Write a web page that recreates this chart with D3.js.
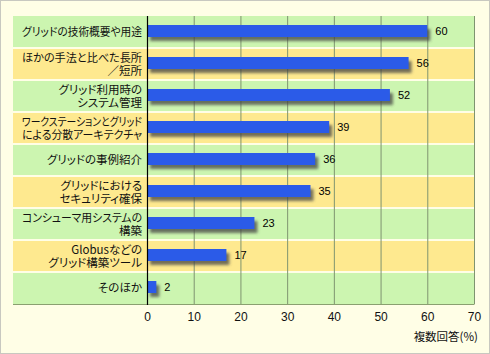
<!DOCTYPE html>
<html><head><meta charset="utf-8">
<script src="https://cdn.jsdelivr.net/npm/d3@7"></script>
<style>
html,body{margin:0;padding:0;background:#fffee6;}
svg{display:block;}
.jp{font-family:"Noto Sans CJK JP",sans-serif;font-feature-settings:"palt" 1;}
</style></head>
<body>
<svg id="c" width="490" height="354"></svg>
<script>
const categories = [
  ["グリッドの技術概要や用途"],
  ["ほかの手法と比べた長所", "／短所"],
  ["グリッド利用時の", "システム管理"],
  ["ワークステーションとグリッド", "による分散アーキテクチャ"],
  ["グリッドの事例紹介"],
  ["グリッドにおける", "セキュリティ確保"],
  ["コンシューマ用システムの", "構築"],
  ["Globusなどの", "グリッド構築ツール"],
  ["そのほか"]
];
const values = [60, 56, 52, 39, 36, 35, 23, 17, 2];
const ticks = [0, 10, 20, 30, 40, 50, 60, 70];
const axisTitle = "複数回答(%)";

(function(){
const svg = d3.select("#c");
const W = 490, H = 354;
svg.append("rect").attr("x",0.5).attr("y",0.5).attr("width",W-1).attr("height",H-1)
  .attr("fill","#fffee6").attr("stroke","#c8c8c0");

const pLeft = 13, x0 = 147, x1 = 474, pTop = 16, pBottom = 304;
const x = d3.scaleLinear().domain([0,70]).range([x0,x1]);
const y = d3.scaleBand().domain(d3.range(categories.length)).range([pTop,pBottom]);

const defs = svg.append("defs");
const f = defs.append("filter").attr("id","sh").attr("x","-20%").attr("y","-50%").attr("width","150%").attr("height","250%");
f.append("feGaussianBlur").attr("stdDeviation",1.8);

svg.append("g").selectAll("rect").data(categories).join("rect")
  .attr("x", pLeft).attr("width", x1-pLeft)
  .attr("y", (d,i)=> y(i) + (i>0?1:0))
  .attr("height", (d,i)=> y.bandwidth() - (i>0?1:0) - (i<categories.length-1?1:0))
  .attr("fill", (d,i)=> i%2===0 ? "#ccf5b0" : "#fee98f");

svg.append("g").selectAll("line").data(ticks.filter(t=>t>0)).join("line")
  .attr("x1", d=>x(d)+0.5).attr("x2", d=>x(d)+0.5)
  .attr("y1", pTop).attr("y2", pBottom)
  .attr("stroke","#7f9470").attr("stroke-width",1);

svg.append("line").attr("x1",pLeft).attr("x2",x1+0.5).attr("y1",pBottom+0.5).attr("y2",pBottom+0.5)
  .attr("stroke","#8aa070").attr("stroke-width",1);

const bh = 12;
const boff = (y.bandwidth()-bh)/2 - 1;
svg.append("g").selectAll("rect").data(values).join("rect")
  .attr("x", x(0)+3).attr("y",(d,i)=>y(i)+boff+4)
  .attr("width", d=>x(d)-x(0)).attr("height",bh)
  .attr("fill","#444").attr("opacity",0.75).attr("filter","url(#sh)");
svg.append("g").selectAll("rect").data(values).join("rect")
  .attr("x", x(0)).attr("y",(d,i)=>y(i)+boff)
  .attr("width", d=>x(d)-x(0)).attr("height",bh)
  .attr("fill","#2b5be8");

svg.append("line").attr("x1",x0+0.5).attr("x2",x0+0.5).attr("y1",pTop).attr("y2",pBottom+1)
  .attr("stroke","#000").attr("stroke-width",1.2);

svg.append("g").selectAll("text").data(values).join("text")
  .attr("x", d=>x(d)+8).attr("y",(d,i)=>y(i)+y.bandwidth()/2-1)
  .attr("dy","0.35em")
  .attr("font-family","Liberation Sans, Arial, sans-serif").attr("font-size",11)
  .attr("fill","#000").text(d=>d);

const lab = svg.append("g").attr("class","jp").attr("font-size",11.5).attr("fill","#111");
const lh = 13, maxW = 120;
categories.forEach((lines,i)=>{
  const cy = y(i)+y.bandwidth()/2;
  const t = lab.append("text").attr("text-anchor","end");
  lines.forEach((s,j)=>{
    const ts = t.append("tspan").attr("x",x0-5)
      .attr("y", cy + (j-(lines.length-1)/2)*lh).attr("dy","0.35em").text(s);
    const w = ts.node().getComputedTextLength();
    if (w > maxW) ts.attr("textLength", maxW).attr("lengthAdjust","spacingAndGlyphs");
  });
});

const axis = d3.axisBottom(x).tickValues(ticks).tickSize(0).tickPadding(0);
const ag = svg.append("g").attr("transform",`translate(0,${pBottom})`).call(axis);
ag.select(".domain").remove();
ag.selectAll("text").attr("y",13).attr("dy","0.35em")
  .attr("font-family","Liberation Sans, Arial, sans-serif").attr("font-size",12).attr("fill","#111");

svg.append("text").attr("class","jp").attr("x",478).attr("y",337).attr("dy","0.35em").attr("text-anchor","end")
  .attr("font-size",11.5).attr("fill","#111").text(axisTitle);
})();
</script>
</body></html>
